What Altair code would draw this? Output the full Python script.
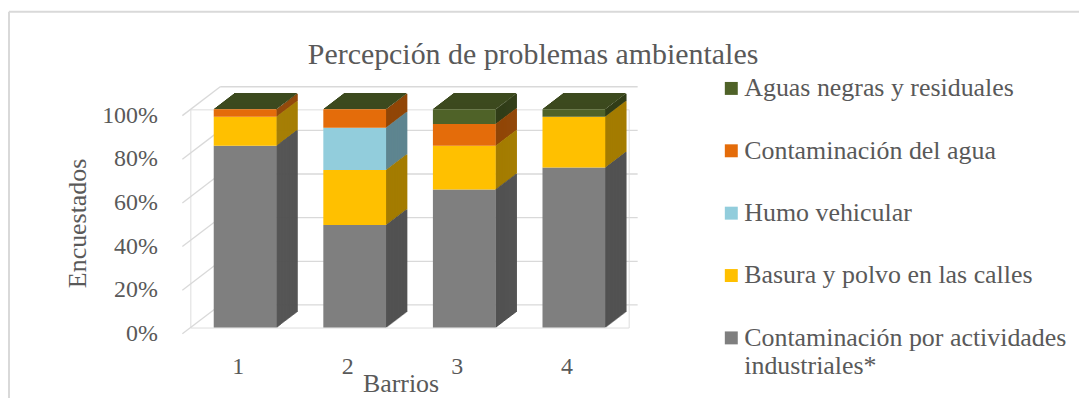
import altair as alt
import pandas as pd

# ---- data (percent of respondents) ----
barrios = ["1", "2", "3", "4"]
series_names = [
    "Contaminación por actividades industriales*",
    "Basura y polvo en las calles",
    "Humo vehicular",
    "Contaminación del agua",
    "Aguas negras y residuales",
]
industriales = [83.3, 47.0, 63.3, 73.3]
basura = [13.3, 25.2, 20.0, 23.3]
humo = [0.0, 19.4, 0.0, 0.0]
agua = [3.4, 8.4, 10.0, 0.0]
aguas_negras = [0.0, 0.0, 6.7, 3.4]
tick_values = [0, 20, 40, 60, 80, 100]
chart_title = "Percepción de problemas ambientales"

front_colors = ["#7F7F7F", "#FFC000", "#92CDDC", "#E46C0A", "#4F6228"]
side_colors = ["#525252", "#A47C00", "#5E8590", "#914607", "#313D18"]
top_color = "#3D4A1F"
text_color = "#595959"
font = "Liberation Serif"

series_values = [industriales, basura, humo, agua, aguas_negras]

rows = []
for i, b in enumerate(barrios):
    cum = 0.0
    for j, s in enumerate(series_names):
        v = series_values[j][i]
        rows.append(dict(barrio=b, serie=s, valor=v, lo=cum, hi=cum + v, lado=side_colors[j]))
        cum += v
df = pd.DataFrame(rows)
seg = df[df["valor"] > 0]
tops = df.groupby("barrio", as_index=False)["hi"].max().rename(columns={"hi": "total"})
ticks_df = pd.DataFrame({"t": tick_values})
title_df = pd.DataFrame({"titulo": [chart_title]})

yscale = alt.Scale(domain=[0, 100])
xscale = alt.Scale(domain=barrios, paddingInner=0, paddingOuter=0)

x_axis = alt.Axis(
    domain=False, ticks=False, labelAngle=0, labelPadding=27, labelOffset=-7,
    labelFont=font, labelFontSize=24, labelColor=text_color,
    title="Barrios", titleFont=font, titleFontSize=26, titleColor=text_color,
    titleFontWeight="normal", titleX=211, titleY=64, titleAlign="center",
    titleBaseline="alphabetic")
y_axis = alt.Axis(
    values=tick_values, labelExpr="datum.value + '%'", grid=False, domain=False,
    ticks=False, labelPadding=33, labelOffset=6, labelFont=font, labelFontSize=24,
    labelColor=text_color, title="Encuestados", titleFont=font, titleFontSize=26,
    titleColor=text_color, titleFontWeight="normal", titleX=-105, titleY=114,
    titleBaseline="alphabetic", titleAlign="center")


def X():
    return alt.X("barrio:N", scale=xscale, axis=x_axis)


def Y(field):
    return alt.Y(field, scale=yscale, axis=y_axis)


legend_order = series_names[::-1]
legend_colors = front_colors[::-1]

BACK_DY = -22.7
DEPTH_X = 21
DEPTH_Y = 16
BAR_W = 63

layers = []

# back wall gridlines
grid = alt.Chart(ticks_df)
layers.append(grid.mark_rule(color="#D9D9D9", strokeWidth=1.3, yOffset=BACK_DY).encode(
    y=Y("t:Q"), x=alt.value(30), x2=alt.value(449)))
# floor diagonals from labels to the back wall
layers.append(grid.mark_rule(color="#D9D9D9", strokeWidth=1.3, yOffset=6.3, y2Offset=BACK_DY).encode(
    y=Y("t:Q"), y2=alt.Y2("t"), x=alt.value(-8), x2=alt.value(30)))

# frame lines (chart border)
frame = alt.Chart(title_df)
layers.append(frame.mark_rule(color="#D9D9D9", strokeWidth=2).encode(
    x=alt.value(-182), x2=alt.value(900), y=alt.value(-98)))
layers.append(frame.mark_rule(color="#D9D9D9", strokeWidth=2).encode(
    x=alt.value(-182), y=alt.value(-98), y2=alt.value(300)))

# chart title
layers.append(frame.mark_text(font=font, fontSize=30, color=text_color, align="center",
                              baseline="alphabetic").encode(
    text="titulo:N", x=alt.value(344), y=alt.value(-46)))

# side faces (thin slices stepping up in depth)
NS = 21
for k in range(NS):
    off = -DEPTH_Y * (k + 0.5) / NS
    layers.append(alt.Chart(seg).mark_bar(
        size=1.7, xOffset=BAR_W / 2 + DEPTH_X * (k + 0.5) / NS, yOffset=off, y2Offset=off
    ).encode(
        x=X(),
        y=Y("lo:Q"),
        y2=alt.Y2("hi"),
        fill=alt.Fill("lado:N", scale=None),
    ))

# top faces
NT = 16
for k in range(NT):
    layers.append(alt.Chart(tops).mark_bar(
        size=BAR_W, xOffset=DEPTH_X * (k + 0.5) / NT, yOffset=-k * DEPTH_Y / NT,
        y2Offset=-(k + 1.4) * DEPTH_Y / NT, color=top_color
    ).encode(
        x=X(),
        y=Y("total:Q"),
        y2=alt.Y2("total"),
    ))

# front faces
front = alt.Chart(seg).mark_bar(size=BAR_W).encode(
    x=X(),
    y=Y("lo:Q"),
    y2=alt.Y2("hi"),
    color=alt.Color("serie:N", scale=alt.Scale(domain=legend_order, range=legend_colors),
                    legend=alt.Legend(
                        orient="none", legendX=530, legendY=-34, title=None,
                        symbolType="square", symbolSize=169, symbolStrokeWidth=0,
                        labelFont=font, labelFontSize=26, labelColor=text_color,
                        rowPadding=36.6, labelOffset=0, labelLimit=500, padding=0,
                        labelExpr="datum.label == 'Contaminación por actividades industriales*' ? ['Contaminación por actividades', 'industriales*'] : datum.label")),
)
layers.append(front)

chart = alt.layer(*layers).properties(
    width=440,
    height=219,
    padding={"left": 183, "top": 101, "right": 452, "bottom": 70},
    autosize=alt.AutoSizeParams(type="none"),
).configure_view(stroke=None).configure(background="white")

chart.save("out.html", embed_options={"renderer": "svg", "actions": False})
